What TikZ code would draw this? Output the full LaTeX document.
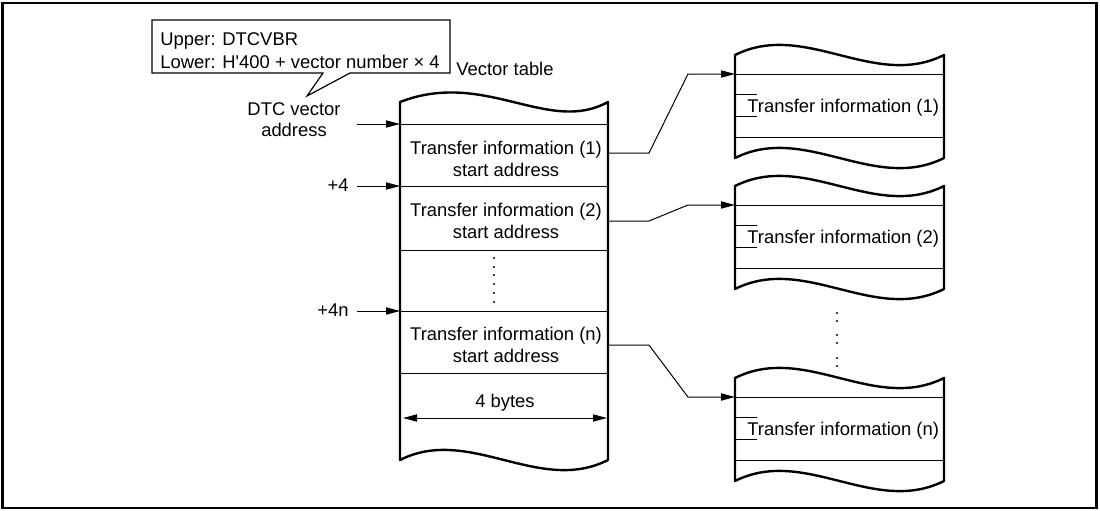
\documentclass[tikz,border=0pt]{standalone}
\usepackage{fontspec}
\setmainfont{Liberation Sans}
\usetikzlibrary{arrows.meta}

\begin{document}
\begin{tikzpicture}[x=0.5pt, y=-0.5pt,
        ar/.style={-{Triangle[length=7pt,width=3.6pt]}, line width=0.5pt},
        lbl/.style={font=\fontsize{9.2}{11}\selectfont, inner sep=0pt},
        outline/.style={line width=1.2pt, line join=round},
        rule/.style={line width=0.5pt}]
        \useasboundingbox (0,0) rectangle (1100,510);
        \draw[line width=1.2pt] (2.5,3) rectangle (1096.5,508);

        % callout
        \draw[line width=0.6pt] (152,20) -- (450,20) -- (450,73) -- (350,73) -- (307,96) -- (323,73) -- (152,73) -- cycle;
        \node[lbl, anchor=base west] (upper) at (160,45) {Upper: DTCVBR};
        \node[lbl, anchor=base west] (lower) at (160,68) {Lower: H\textquotesingle 400 + vector number × 4};
        \node[lbl, anchor=base west] (vtable) at (456,75) {Vector table};
        \node[lbl, anchor=base] (dtc) at (294,115) {DTC vector};
        \node[lbl, anchor=base] (dtcaddr) at (294,136) {address};
        \node[lbl, anchor=base east] (plusfour) at (349,191) {+4};
        \node[lbl, anchor=base east] (plusfourn) at (349,316) {+4n};

        % vector table
        \draw[outline] (400,102) -- (400,460) .. controls +(69,-35) and +(-69,35) .. (608,460)
            -- (608,102) .. controls +(-60,33) and +(85,-33) .. (400,102) -- cycle;
        \foreach \y in {124,186,250,311,373} {
            \draw[rule] (400,\y) -- (608,\y);
        }
        \foreach \n/\y in {1/154, 2/216, n/340} {
            \node[lbl, anchor=base] (row\n) at (506,\y) {Transfer information (\n)};
            \node[lbl, anchor=base] (addr\n) at (506,\y+22) {start address};
        }
        \foreach \y in {258,267,275,284,293,302} {
            \fill (494,\y) circle (0.6pt);
        }
        \foreach \y [count=\i] in {124,186,311} {
            \coordinate (from\i) at (357,\y);
            \coordinate (to\i) at (400,\y);
            \draw[ar] (from\i) -- (to\i);
        }
        \coordinate (wl) at (403,418);
        \coordinate (wr) at (607,418);
        \draw[{Triangle[length=7pt,width=3.6pt]}-{Triangle[length=7pt,width=3.6pt]}, rule] (wl) -- (wr);
        \node[lbl, anchor=base] (bytes) at (505,407) {4 bytes};

        % transfer information blocks
        \foreach \y/\n in {55/1, 186/2, 378/n} {
            \draw[outline] (735,\y) -- (735,\y+103) .. controls +(70,-35) and +(-70,35) .. (944,\y+103)
                -- (944,\y) .. controls +(-70,35) and +(70,-35) .. (735,\y) -- cycle;
            \draw[rule] (735,\y+19) -- (944,\y+19) (735,\y+82) -- (944,\y+82);
            \draw[rule] (735,\y+39) -- (757,\y+39) (735,\y+61) -- (757,\y+61);
            \node[lbl, anchor=base west] (info\n) at (747,\y+57) {Transfer information (\n)};
            \coordinate (entry\n) at (735,\y+19);
        }
        \foreach \y in {313,321,335,343,358,366} {
            \fill (837,\y) circle (0.6pt);
        }
        \foreach \n/\y in {1/153, 2/221, n/345} {
            \coordinate (exit\n) at (608,\y);
            \draw[ar] (exit\n) -- ++(41,0) -- ([xshift=-23.5pt]entry\n) -- (entry\n);
        }
\end{tikzpicture}
\end{document}
